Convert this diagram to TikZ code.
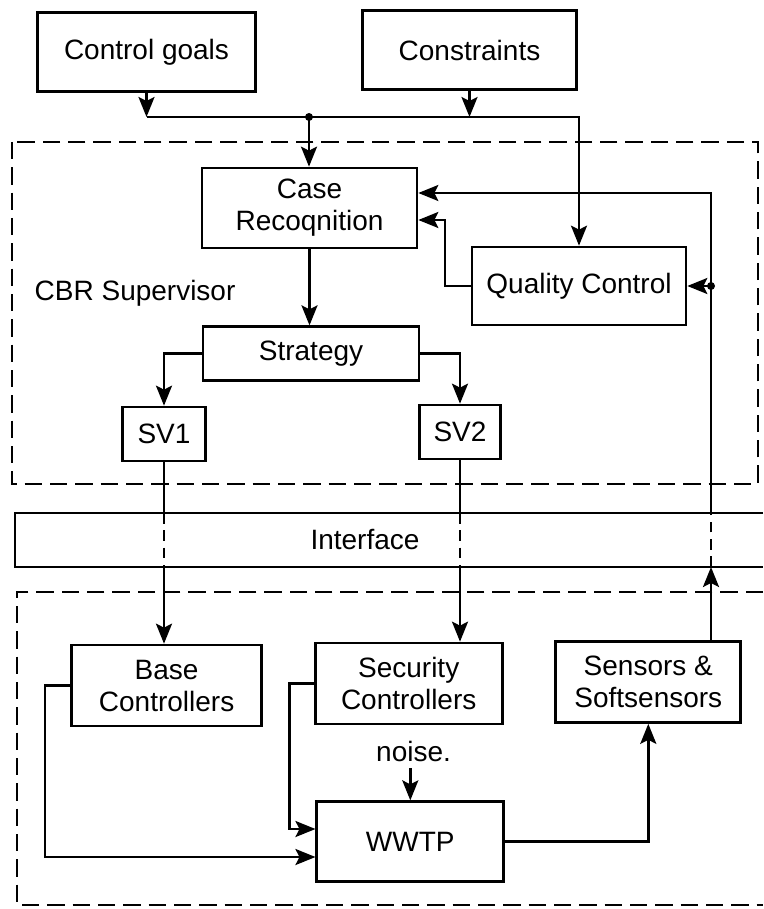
\documentclass[tikz,border=0pt]{standalone}
\usepackage{fontspec}
\setmainfont{Liberation Sans}
\usetikzlibrary{arrows.meta}
\begin{document}
\begin{tikzpicture}[x=0.75pt,y=-0.75pt,
  font=\fontsize{21}{24}\selectfont,
  line width=1.9pt,
  box/.style={draw, rectangle, inner sep=0pt, align=center, line width=2pt},
  arr/.style={-{Stealth[length=15pt,width=12pt,inset=3pt]}},
  zone/.style={dashed, dash pattern=on 13pt off 6pt, line width=2pt},
  gap/.style={dashed, dash pattern=on 8pt off 5pt},
  dot/.style={circle, fill, inner sep=0pt, minimum size=6pt}]
\useasboundingbox (0,0) rectangle (763,909);

% dashed areas: supervisor and plant
\draw[zone] (12,142) rectangle (758,484);
\draw[zone] (763,592) -- (17,592) -- (17,905) -- (763,905);

% interface band, open to the right
\draw[line width=2pt] (763,513) -- (15,513) -- (15,567) -- (763,567);
\coordinate (ifT) at (15,513);
\coordinate (ifB) at (15,567);
\node (iface) at (365,540) {Interface};

\node[anchor=west] (cbr) at (29,293) {CBR Supervisor};

% blocks
\node[box, minimum width=218*0.75pt, minimum height=79*0.75pt] (goals) at (146.5,52) {Control goals};
\node[box, minimum width=214*0.75pt, minimum height=79*0.75pt] (cons) at (469.5,50) {Constraints};
\node[box, minimum width=215*0.75pt, minimum height=80*0.75pt] (case) at (309.5,208) {Case\\Recoqnition};
\node[box, minimum width=214*0.75pt, minimum height=78*0.75pt] (qc) at (579,286) {Quality Control};
\node[box, minimum width=216*0.75pt, minimum height=54*0.75pt] (strat) at (311,353.7) {Strategy};
\node[box, minimum width=83*0.75pt, minimum height=54*0.75pt] (sv1) at (164,434) {SV1};
\node[box, minimum width=81*0.75pt, minimum height=54*0.75pt] (sv2) at (460,432) {SV2};
\node[box, minimum width=190*0.75pt, minimum height=81*0.75pt] (base) at (166.6,685.5) {Base\\Controllers};
\node[box, minimum width=187*0.75pt, minimum height=81*0.75pt] (sec) at (408.7,683.5) {Security\\Controllers};
\node[box, minimum width=185*0.75pt, minimum height=81*0.75pt] (sens) at (648.3,682) {Sensors \&\\Softsensors};
\node[box, minimum width=187*0.75pt, minimum height=80*0.75pt] (wwtp) at (410.3,841.7) {WWTP};
\node[inner sep=0pt] (noise) at (413.6,751) {noise.};

% goals and constraints bus
\coordinate (bus) at (309,117);
\draw[arr] (goals.south) -- (goals.south |- bus);
\draw[arr] (cons.south) -- (cons.south |- bus);
\draw[arr] (goals.south |- bus) -| (qc.north);
\node[dot] at (bus) {};
\draw[arr] (bus) -- (bus |- case.north);

% supervisor internals
\draw[arr] (case.south) -- (case.south |- strat.north);
\draw[arr] (strat.west) -| (sv1.north);
\draw[arr] (strat.east) -| (sv2.north);
\coordinate (qcr) at (445,220);
\draw[arr] (qc.west) -| (qcr) -- (qcr -| case.east);

% set points down through the interface
\draw (sv1.south) -- (sv1.south |- ifT);
\draw[gap] (sv1.south |- ifT) -- (sv1.south |- ifB);
\draw[arr] (sv1.south |- ifB) -- (sv1.south |- base.north);
\draw (sv2.south) -- (sv2.south |- ifT);
\draw[gap] (sv2.south |- ifT) -- (sv2.south |- ifB);
\draw[arr] (sv2.south |- ifB) -- (sv2.south |- sec.north);

% measurements fed back up
\coordinate (fb) at (711,193);
\draw[arr] (fb |- sens.north) -- (fb |- ifB);
\draw[gap] (fb |- ifB) -- (fb |- ifT);
\draw[arr] (fb |- ifT) -- (fb) -- (fb -| case.east);
\draw[arr] (fb |- qc.east) -- (qc.east);
\node[dot] at (fb |- qc.east) {};

% plant loop
\coordinate (bl) at (45,857);
\coordinate (sl) at (289.5,829);
\draw[arr] (base.west) -| (bl) -- (bl -| wwtp.west);
\draw[arr] (sec.west) -| (sl) -- (sl -| wwtp.west);
\coordinate (nz) at (410.3,768);
\draw[arr] (nz) -- (wwtp.north);
\draw[arr] (wwtp.east) -| (sens.south);
\end{tikzpicture}
\end{document}
